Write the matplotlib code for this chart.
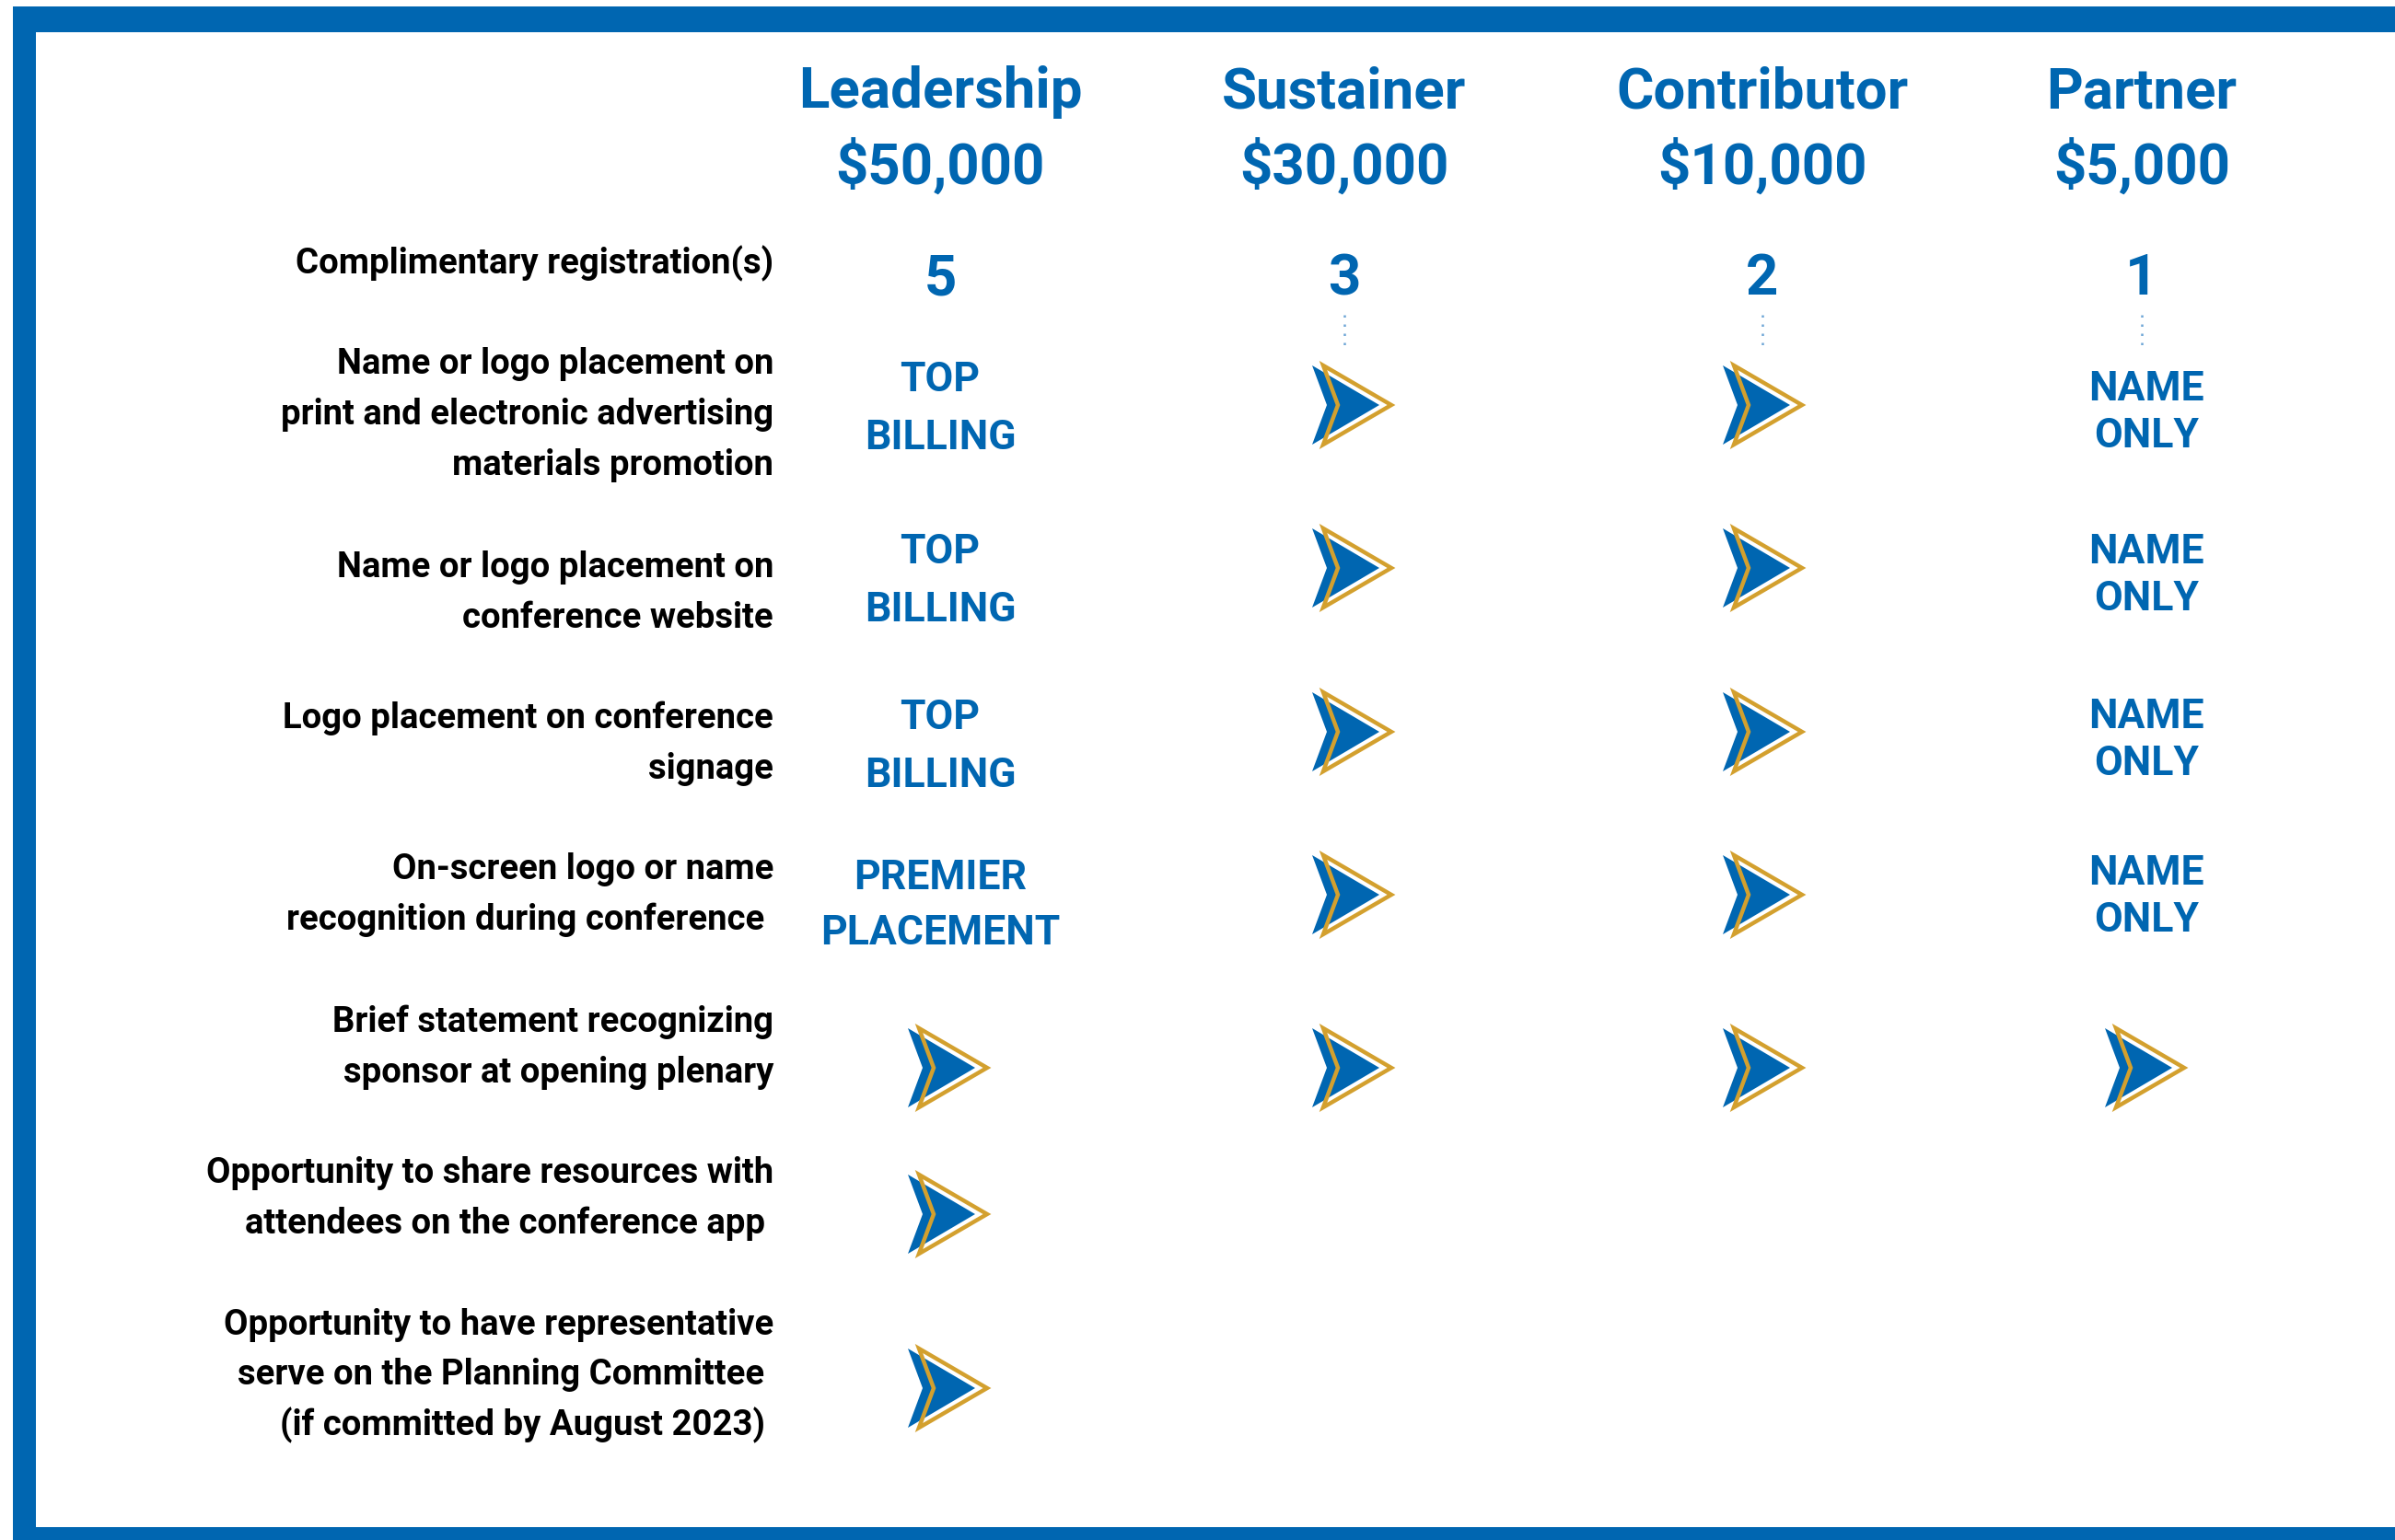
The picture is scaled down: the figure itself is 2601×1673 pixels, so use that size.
import matplotlib
matplotlib.use("Agg")
import matplotlib.pyplot as plt
from matplotlib import font_manager as fm
from matplotlib.patches import Polygon, Rectangle

# DATA
tiers = ["Leadership", "Sustainer", "Contributor", "Partner"]
prices = ["$50,000", "$30,000", "$10,000", "$5,000"]
registrations = [5, 3, 2, 1]
benefits = [
    ["Name or logo placement on", "print and electronic advertising", "materials promotion"],
    ["Name or logo placement on", "conference website"],
    ["Logo placement on conference", "signage"],
    ["On-screen logo or name", "recognition during conference "],
    ["Brief statement recognizing", "sponsor at opening plenary"],
    ["Opportunity to share resources with", "attendees on the conference app "],
    ["Opportunity to have representative", "serve on the Planning Committee ", "(if committed by August 2023) "],
]
# "arrow" = included, None = not included
cells = [
    ["TOP\nBILLING", "arrow", "arrow", "NAME\nONLY"],
    ["TOP\nBILLING", "arrow", "arrow", "NAME\nONLY"],
    ["TOP\nBILLING", "arrow", "arrow", "NAME\nONLY"],
    ["PREMIER\nPLACEMENT", "arrow", "arrow", "NAME\nONLY"],
    ["arrow", "arrow", "arrow", "arrow"],
    ["arrow", None, None, None],
    ["arrow", None, None, None],
]

# LAYOUT (pixels)
W, H = 2601, 1673
col_x = [1021, 1460, 1914, 2326]
arrow_dx = [8, 8, 0, 3]
label_x = 840
label_y = [[393, 448, 503], [614, 669], [778, 833], [942, 997], [1108, 1163], [1272, 1327], [1437, 1491, 1546]]
mark_y = [440, 617, 795, 972, 1160, 1319, 1508]
text_y = {0: [440, 627, 807, 980], 3: [444, 621, 800, 970]}
line_gap = {"TOP": 63, "NAME": 51, "PREMIER": 61}

BLUE = "#0066B1"
GOLD = "#D3A02E"
DOTS = "#6FA6D6"


def pick(names):
    for n in names:
        try:
            fm.findfont(fm.FontProperties(family=n), fallback_to_default=False)
            return n
        except ValueError:
            continue
    return "DejaVu Sans"


head_font = pick(["Roboto", "Inter", "DejaVu Sans"])
label_font = head_font
LABEL_SIZE = 27.5

fig = plt.figure(figsize=(W / 100, H / 100), dpi=100)
ax = fig.add_axes([0, 0, 1, 1])
ax.set_xlim(0, W)
ax.set_ylim(H, 0)
ax.axis("off")

# frame
ax.add_patch(Rectangle((14, 7), W - 14, 28, color=BLUE, lw=0))
ax.add_patch(Rectangle((14, 7), 25, H - 7, color=BLUE, lw=0))
ax.add_patch(Rectangle((14, 1659), W - 14, 14, color=BLUE, lw=0))


def arrow(cx, cy):
    blue = [(cx - 43, cy - 43), (cx + 30, cy), (cx - 43, cy + 43), (cx - 27, cy)]
    gold = [(cx - 31, cy - 43), (cx + 43, cy), (cx - 31, cy + 43), (cx - 15, cy)]
    ax.add_patch(Polygon(blue, closed=True, color=BLUE, lw=0))
    ax.add_patch(Polygon(gold, closed=True, fill=False, edgecolor=GOLD, lw=3.2, joinstyle="miter"))


# headers
for i in range(len(tiers)):
    ax.text(col_x[i], 117, tiers[i], ha="center", va="baseline", color=BLUE,
            fontsize=44.5, fontweight="bold", family=head_font)
    ax.text(col_x[i], 200, prices[i], ha="center", va="baseline", color=BLUE,
            fontsize=44.5, fontweight="bold", family=head_font)
    ax.text(col_x[i], 320, str(registrations[i]), ha="center", va="baseline", color=BLUE,
            fontsize=44.5, fontweight="bold", family=head_font)
    if i > 0:
        ax.plot([col_x[i], col_x[i]], [342, 380], color=DOTS, lw=1.8, ls=(0, (1, 3.0)))

ax.text(label_x, 297, "Complimentary registration(s)", ha="right", va="baseline",
        fontsize=LABEL_SIZE, fontweight="bold", family=label_font, color="black")

for r, lines in enumerate(benefits):
    for j, line in enumerate(lines):
        ax.text(label_x, label_y[r][j] + 13, line, ha="right", va="baseline",
                fontsize=LABEL_SIZE, fontweight="bold", family=label_font, color="black")
    for c, val in enumerate(cells[r]):
        if val is None:
            continue
        if val == "arrow":
            arrow(col_x[c] + arrow_dx[c], mark_y[r])
        else:
            parts = val.split("\n")
            gap = line_gap[parts[0]]
            top = text_y[c][r] - gap / 2
            for k, p in enumerate(parts):
                ax.text(col_x[c] + (5 if c == 3 else 0), top + k * gap + 16, p, ha="center",
                        va="baseline", color=BLUE, fontsize=32, fontweight="bold", family=head_font)

fig.savefig("out.png", dpi=100, facecolor="white")
